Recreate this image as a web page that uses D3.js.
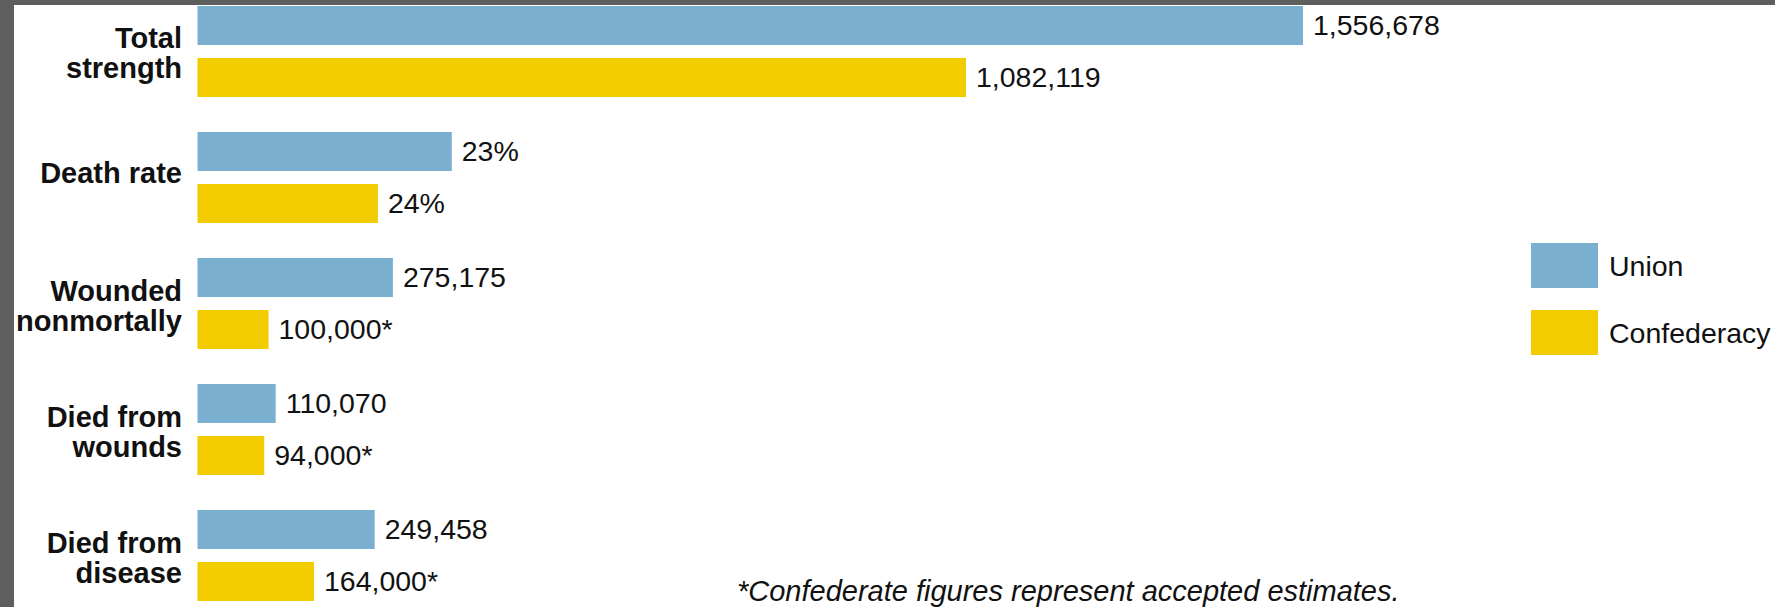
<!DOCTYPE html>
<html>

<head>
    <title>Civil War casualties</title>
    <script src="https://cdnjs.cloudflare.com/ajax/libs/d3/7.8.5/d3.min.js"></script>
    <style>
        body {
            margin: 0;
            background: #5e5e5e;
            font-family: "Liberation Sans", Arial, Helvetica, sans-serif;
        }

        .value_text {
            font-size: 28.5px;
            fill: #111;
        }

        .cat_text {
            font-size: 29px;
            font-weight: bold;
            fill: #111;
        }
    </style>
</head>

<body>
    <svg class='chart_svg' width='1775' height='607'></svg>

    <script>
        // data
        const categories = ['Total strength', 'Death rate', 'Wounded nonmortally', 'Died from wounds', 'Died from disease']
        const categoryLines = [['Total', 'strength'], ['Death rate'], ['Wounded', 'nonmortally'], ['Died from', 'wounds'], ['Died from', 'disease']]
        const series = ['Union', 'Confederacy']
        // death rate bars are drawn by number of deaths in the original, not by the percentage
        const unionValues = [1556678, 358000, 275175, 110070, 249458]
        const confedValues = [1082119, 254000, 100000, 94000, 164000]
        const unionLabels = ['1,556,678', '23%', '275,175', '110,070', '249,458']
        const confedLabels = ['1,082,119', '24%', '100,000*', '94,000*', '164,000*']
        const footnote = '*Confederate figures represent accepted estimates.'

        const colors = { 'Union': '#7aafd0', 'Confederacy': '#f3cc00' }

        let svg = d3.select('.chart_svg')

        // white panel inside the gray frame
        svg.append('rect')
            .attr('x', 14)
            .attr('y', 5)
            .attr('width', 1775 - 14)
            .attr('height', 607 - 5)
            .attr('fill', 'white')

        let barLeft = 197.5

        let x = d3.scaleLinear()
            .domain([0, d3.max(unionValues)])
            .range([0, 1105.5])

        let y0 = d3.scaleBand()
            .domain(categories)
            .range([6, 601])
            .paddingInner(0.2778)
            .paddingOuter(0)

        let y1 = d3.scaleBand()
            .domain(series)
            .range([0, y0.bandwidth()])
            .paddingInner(0.25)

        let rows = categories.map(function(c, i) {
            return {
                cat: c,
                lines: categoryLines[i],
                bars: [
                    { s: 'Union', v: unionValues[i], label: unionLabels[i] },
                    { s: 'Confederacy', v: confedValues[i], label: confedLabels[i] }
                ]
            }
        })

        let group = svg.selectAll('.group')
            .data(rows)
            .enter()
            .append('g')
            .attr('class', 'group')
            .attr('transform', function(d) {
                return 'translate(' + barLeft + ',' + y0(d.cat) + ')'
            })

        group.selectAll('rect')
            .data(function(d) { return d.bars })
            .enter()
            .append('rect')
            .attr('x', 0)
            .attr('y', function(d) { return y1(d.s) })
            .attr('width', function(d) { return x(d.v) })
            .attr('height', y1.bandwidth())
            .attr('fill', function(d) { return colors[d.s] })

        group.selectAll('.value_text')
            .data(function(d) { return d.bars })
            .enter()
            .append('text')
            .attr('class', 'value_text')
            .attr('x', function(d) { return x(d.v) + 10 })
            .attr('y', function(d) { return y1(d.s) + y1.bandwidth() / 2 })
            .attr('dy', '0.35em')
            .text(function(d) { return d.label })

        // category names, right aligned left of the bars
        let catText = group.append('text')
            .attr('class', 'cat_text')
            .attr('text-anchor', 'end')
            .attr('transform', function(d) {
                let off = d.lines.length === 1 ? 6 : -3
                return 'translate(' + (182 - barLeft) + ',' + (y0.bandwidth() / 2 + off) + ')'
            })

        catText.selectAll('tspan')
            .data(function(d) { return d.lines })
            .enter()
            .append('tspan')
            .attr('x', 0)
            .attr('y', function(d, i) { return i * 30 })
            .text(function(d) { return d })

        // legend
        let legend = svg.append('g')
            .attr('class', 'legend')
            .attr('transform', 'translate(1531, 243)')

        let legendItem = legend.selectAll('g')
            .data(series)
            .enter()
            .append('g')
            .attr('transform', function(d, i) { return 'translate(0,' + (i * 67) + ')' })

        legendItem.append('rect')
            .attr('width', 67)
            .attr('height', 45)
            .attr('fill', function(d) { return colors[d] })

        legendItem.append('text')
            .attr('class', 'value_text')
            .attr('x', 78)
            .attr('y', 33)
            .text(function(d) { return d })

        svg.append('text')
            .attr('class', 'value_text')
            .attr('x', 737)
            .attr('y', 601)
            .style('font-style', 'italic')
            .style('font-size', '29px')
            .text(footnote)
    </script>
</body>

</html>
